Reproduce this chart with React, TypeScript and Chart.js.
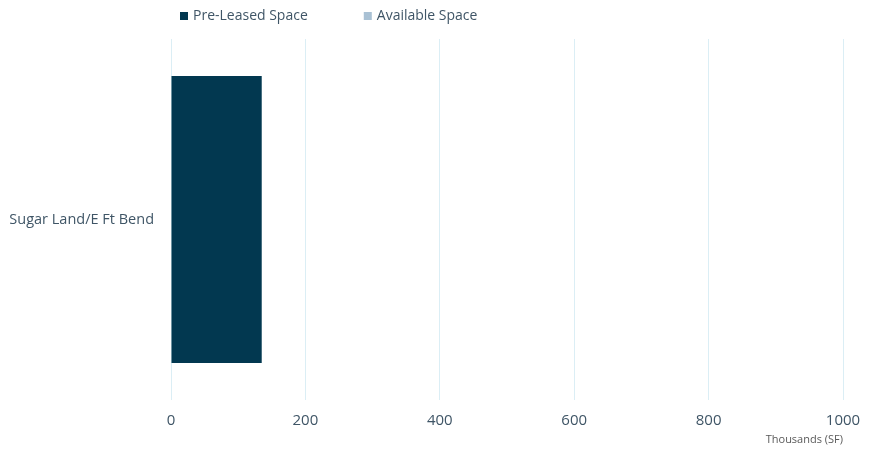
import React, { useEffect, useRef } from "react";
import { Chart, registerables } from "chart.js";

Chart.register(...registerables);

const categories = ["Sugar Land/E Ft Bend"];
const preLeased = [135];
const available = [0];
const seriesNames = ["Pre-Leased Space", "Available Space"];
const seriesColors = ["#023850", "#a9c1d4"];
const xTicks = [0, 200, 400, 600, 800, 1000];
const axisTitle = "Thousands (SF)";

const FONT = "'Open Sans', 'Noto Sans', sans-serif";
const TEXT = "#3f5566";

const legendPlugin = {
  id: "topLegend",
  afterDraw(chart: any) {
    const { ctx, chartArea } = chart;
    ctx.save();
    ctx.font = `14px ${FONT}`;
    ctx.textBaseline = "middle";
    ctx.textAlign = "left";
    let x = chartArea.left + 9;
    const y = 16;
    chart.data.datasets.forEach((ds: any) => {
      ctx.fillStyle = ds.backgroundColor;
      ctx.fillRect(x, y - 4, 8, 8);
      ctx.fillStyle = TEXT;
      ctx.fillText(ds.label, x + 13, y);
      x += 13 + ctx.measureText(ds.label).width + 56;
    });
    ctx.restore();
  },
};

export default function App() {
  const ref = useRef<HTMLCanvasElement | null>(null);
  useEffect(() => {
    if (!ref.current) return;
    const chart = new Chart(ref.current, {
      type: "bar",
      data: {
        labels: categories,
        datasets: [
          { label: seriesNames[0], data: preLeased, backgroundColor: seriesColors[0] },
          { label: seriesNames[1], data: available, backgroundColor: seriesColors[1] },
        ],
      },
      options: {
        indexAxis: "y",
        responsive: false,
        animation: false,
        devicePixelRatio: 1,
        layout: { padding: { top: 39, right: 31, left: 0, bottom: 0 } },
        datasets: { bar: { barPercentage: 0.795, categoryPercentage: 1 } },
        plugins: {
          legend: { display: false },
          tooltip: { enabled: false },
        },
        scales: {
          x: {
            stacked: true,
            min: 0,
            max: 1000,
            afterBuildTicks: (s: any) => {
              s.ticks = xTicks.map((v) => ({ value: v }));
            },
            afterFit: (s: any) => {
              s.height = 50;
            },
            grid: { color: "#dbeef5", drawTicks: false, lineWidth: 1 },
            border: { display: false },
            ticks: {
              padding: 12,
              color: TEXT,
              font: { family: FONT, size: 15 },
              callback: (v: any) => String(v),
            },
            title: {
              display: true,
              text: axisTitle,
              align: "end",
              color: "#595959",
              font: { family: FONT, size: 11 },
              padding: { top: 0, bottom: 4 },
            },
          },
          y: {
            stacked: true,
            afterFit: (s: any) => {
              s.width = 171;
            },
            grid: { display: false, drawTicks: false },
            border: { display: false },
            ticks: { padding: 17, color: TEXT, font: { family: FONT, size: 14.5 } },
          },
        },
      },
      plugins: [legendPlugin],
    });
    return () => chart.destroy();
  }, []);
  return (
    <div style={{ position: "absolute", left: 0, top: 0, width: 874, height: 450, background: "#fff" }}>
      <canvas ref={ref} width={874} height={450} />
    </div>
  );
}
